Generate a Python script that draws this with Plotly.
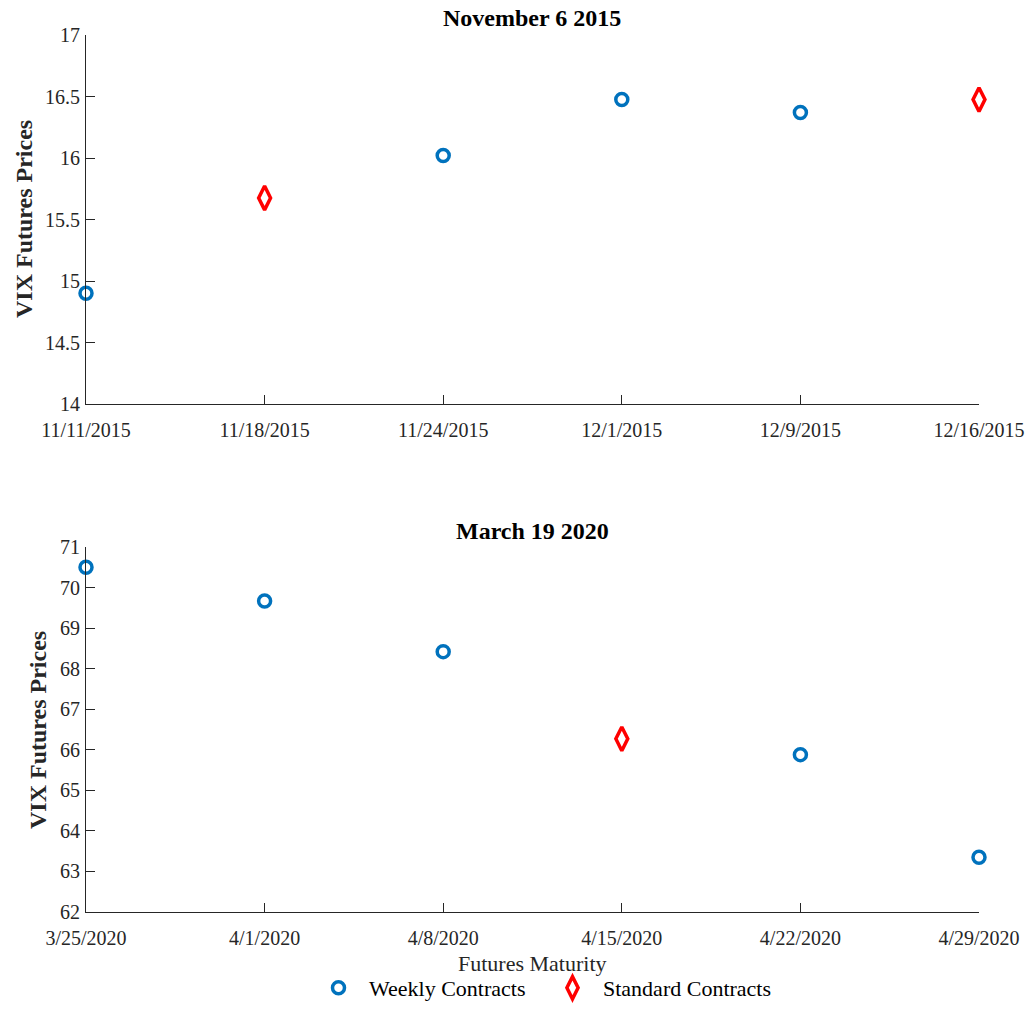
import plotly.graph_objects as go

# ---- data ----
top_labels = ["11/11/2015", "11/18/2015", "11/24/2015", "12/1/2015", "12/9/2015", "12/16/2015"]
top_weekly_idx = [0, 2, 3, 4]
top_weekly_val = [14.90, 16.02, 16.475, 16.37]
top_std_idx = [1, 5]
top_std_val = [15.675, 16.475]

bot_labels = ["3/25/2020", "4/1/2020", "4/8/2020", "4/15/2020", "4/22/2020", "4/29/2020"]
bot_weekly_idx = [0, 1, 2, 4, 5]
bot_weekly_val = [70.50, 69.67, 68.42, 65.88, 63.35]
bot_std_idx = [3]
bot_std_val = [66.27]

top_title = "November 6 2015"
bot_title = "March 19 2020"

BLUE = "#0072BD"
RED = "#FF0000"
AX = "#262626"
FONT = "Liberation Serif"

W, H = 1029, 1009

fig = go.Figure()

circ = dict(symbol="circle-open", size=12, color=BLUE, line=dict(width=3.5, color=BLUE))
diam = dict(symbol="diamond-tall-open", size=17, color=RED, line=dict(width=3.5, color=RED))

fig.add_trace(go.Scatter(x=top_weekly_idx, y=top_weekly_val, mode="markers", marker=circ,
                         name="Weekly Contracts", xaxis="x", yaxis="y", cliponaxis=False))
fig.add_trace(go.Scatter(x=top_std_idx, y=top_std_val, mode="markers", marker=diam,
                         name="Standard Contracts", xaxis="x", yaxis="y", cliponaxis=False))
fig.add_trace(go.Scatter(x=bot_weekly_idx, y=bot_weekly_val, mode="markers", marker=circ,
                         name="Weekly Contracts", xaxis="x2", yaxis="y2", cliponaxis=False,
                         showlegend=False))
fig.add_trace(go.Scatter(x=bot_std_idx, y=bot_std_val, mode="markers", marker=diam,
                         name="Standard Contracts", xaxis="x2", yaxis="y2", cliponaxis=False,
                         showlegend=False))

def px_x(p):
    return p / W

def px_y(p):
    return 1 - p / H

xdom = [px_x(86), px_x(979)]
axis_common = dict(showline=True, linecolor=AX, linewidth=1, ticks="inside", ticklen=9,
                   tickcolor=AX, tickwidth=1, showgrid=False, zeroline=False,
                   tickfont=dict(family=FONT, size=20, color=AX), mirror=False,
                   automargin=False)

fig.update_layout(
    width=W, height=H,
    margin=dict(l=0, r=0, t=0, b=0),
    paper_bgcolor="white", plot_bgcolor="white",
    font=dict(family=FONT, color=AX),
    xaxis=dict(domain=xdom, anchor="y", range=[0, 5], tickmode="array",
               tickvals=list(range(len(top_labels))), ticktext=top_labels,
               ticklabelstandoff=8, **axis_common),
    yaxis=dict(domain=[px_y(404), px_y(35)], anchor="x", range=[14, 17], dtick=0.5,
               tick0=14, ticklabelstandoff=1, **axis_common),
    xaxis2=dict(domain=xdom, anchor="y2", range=[0, 5], tickmode="array",
                tickvals=list(range(len(bot_labels))), ticktext=bot_labels,
                ticklabelstandoff=8, **axis_common),
    yaxis2=dict(domain=[px_y(912), px_y(547)], anchor="x2", range=[62, 71], dtick=1,
                tick0=62, ticklabelstandoff=1, **axis_common),
    showlegend=True,
    legend=dict(orientation="h", x=px_x(308), xanchor="left", y=0, yanchor="bottom",
                font=dict(family=FONT, size=22, color="black"), itemwidth=51,
                entrywidth=168, bgcolor="rgba(0,0,0,0)"),
    annotations=[
        dict(text="<b>" + top_title + "</b>", x=px_x(532), y=px_y(18), xref="paper", yref="paper",
             showarrow=False, font=dict(family=FONT, size=24, color="black"),
             xanchor="center", yanchor="middle"),
        dict(text="<b>" + bot_title + "</b>", x=px_x(532), y=px_y(531), xref="paper", yref="paper",
             showarrow=False, font=dict(family=FONT, size=24, color="black"),
             xanchor="center", yanchor="middle"),
        dict(text="<b>VIX Futures Prices</b>", x=px_x(24), y=px_y(219), xref="paper", yref="paper",
             showarrow=False, textangle=-90, font=dict(family=FONT, size=24, color=AX),
             xanchor="center", yanchor="middle"),
        dict(text="<b>VIX Futures Prices</b>", x=px_x(38), y=px_y(730), xref="paper", yref="paper",
             showarrow=False, textangle=-90, font=dict(family=FONT, size=24, color=AX),
             xanchor="center", yanchor="middle"),
        dict(text="Futures Maturity", x=px_x(532), y=px_y(963), xref="paper", yref="paper",
             showarrow=False, font=dict(family=FONT, size=22, color=AX),
             xanchor="center", yanchor="middle"),
    ],
)

fig.write_html("out.html")
